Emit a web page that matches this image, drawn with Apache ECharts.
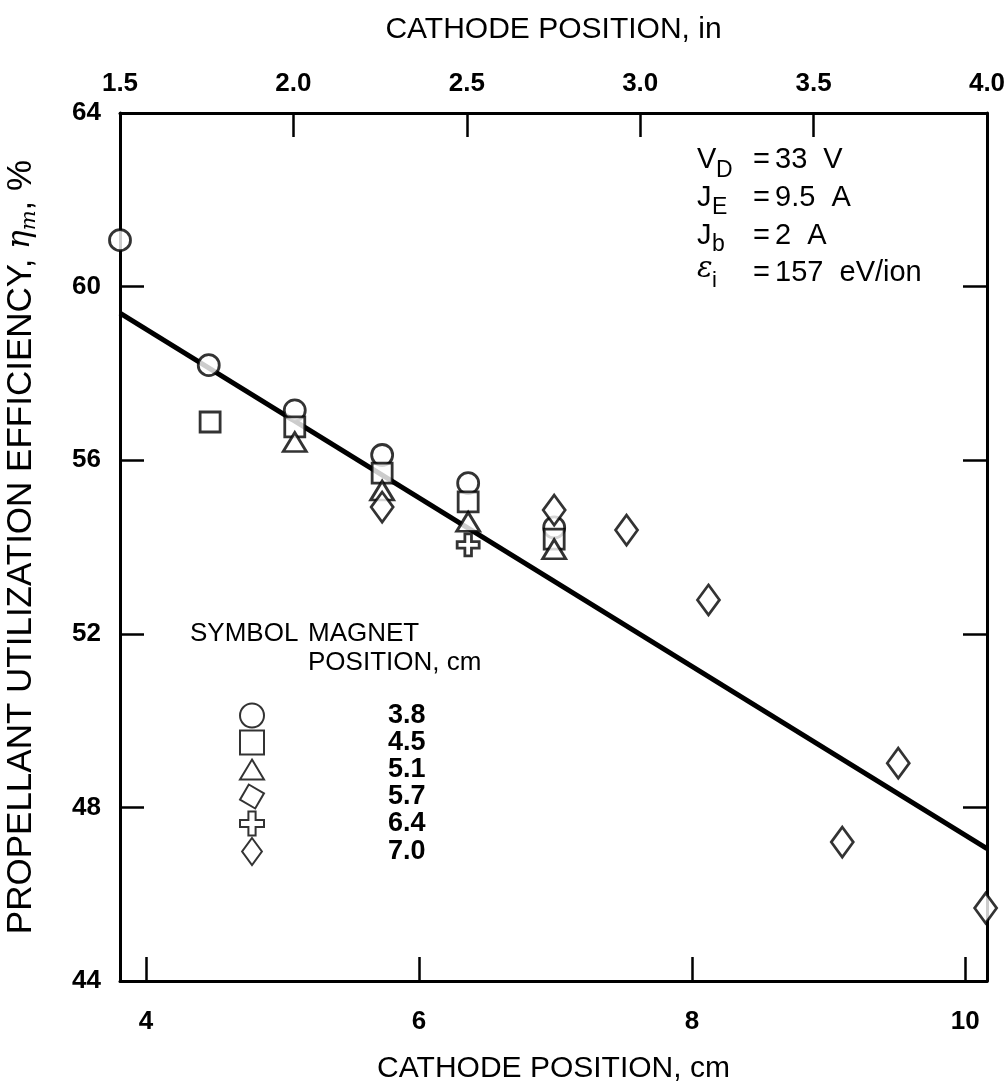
<!DOCTYPE html>
<html><head><meta charset="utf-8">
<script src="https://cdn.jsdelivr.net/npm/echarts@6/dist/echarts.min.js"></script>
<style>html,body{margin:0;padding:0;background:#fff}#c{width:1007px;height:1091px}</style>
</head><body><div id="c"></div>
<script>
// ---- data ----
const magnetPositions = ['3.8', '4.5', '5.1', '5.7', '6.4', '7.0'];
const circle38   = [[3.81, 61.07], [4.46, 58.19], [5.09, 57.15], [5.73, 56.12], [6.36, 55.47], [6.99, 54.45]];
const square45   = [[4.47, 56.88], [5.09, 56.77], [5.73, 55.70], [6.36, 55.04], [6.99, 54.18]];
const triangle51 = [[5.09, 56.42], [5.73, 55.30], [6.36, 54.58], [6.99, 53.95]];
const tilted57   = [];
const cross64    = [[6.36, 54.05]];
const diamond70  = [[5.73, 54.92], [6.99, 54.85], [7.52, 54.39], [8.12, 52.78], [9.10, 47.20], [9.51, 49.02], [10.15, 45.68]];
const fitLine    = [[3.81, 59.39], [10.16, 47.05]];
const cmTickValues = [4, 6, 8, 10];
const inchRange = [1.5, 4.0];
const cmRange = [3.81, 10.16];
const yRange = [44, 64];

const FONT = 'Liberation Sans, Arial, Helvetica, sans-serif';
const chart = echarts.init(document.getElementById('c'), null, {renderer: 'canvas'});

const hollow = {color: '#fff', borderColor: '#000', borderWidth: 2.8};
const crossPath = 'path://M3.5,0 L6.5,0 L6.5,3.5 L10,3.5 L10,6.5 L6.5,6.5 L6.5,10 L3.5,10 L3.5,6.5 L0,6.5 L0,3.5 L3.5,3.5 Z';
const squarePath = 'path://M0,0 L10,0 L10,10 L0,10 Z';
const trianglePath = 'path://M11.5,0 L23,19 L0,19 Z';
const tiltedPath = 'path://M12.59,19.66 L0.34,12.59 L7.41,0.34 L19.66,7.41 Z';
const diamondPath = 'path://M11,0 L22,15 L11,30 L0,15 Z';
const legendIcons = ['circle', squarePath, trianglePath, tiltedPath, crossPath, diamondPath];

function sc(name, data, symbol, size, z, rot) {
  return {
    name: name, type: 'scatter', xAxisIndex: 0, yAxisIndex: 0,
    data: data, symbol: symbol, symbolSize: size, symbolRotate: rot || 0,
    itemStyle: hollow, z: z, emphasis: {disabled: true}, silent: true
  };
}

const axisLine = {show: true, lineStyle: {color: '#000', width: 3}};
const tickStyle = {lineStyle: {color: '#000', width: 2.5}};
const labelStyle = {color: '#000', fontFamily: FONT, fontSize: 26, fontWeight: 'bold'};
const nameStyle = {color: '#000', fontFamily: FONT, fontSize: 30};

function txt(x, y, s, size, extra) {
  return {type: 'text', left: x, top: y, silent: true,
    style: {text: s, font: (extra || '') + size + 'px ' + FONT, fill: '#000'}};
}

const option = {
  backgroundColor: '#fff',
  animation: false,
  grid: {left: 120, right: 20, top: 113, bottom: 110, containLabel: false, outerBoundsMode: 'none'},
  xAxis: [
    {
      type: 'value', position: 'bottom', min: cmRange[0], max: cmRange[1],
      name: 'CATHODE POSITION, cm', nameLocation: 'middle', nameGap: 73, nameTextStyle: nameStyle,
      nameMoveOverlap: false,
      axisLine: axisLine, splitLine: {show: false},
      axisTick: Object.assign({show: true, inside: true, length: 24, customValues: cmTickValues}, tickStyle),
      axisLabel: Object.assign({margin: 28, customValues: cmTickValues}, labelStyle)
    },
    {
      type: 'value', position: 'top', min: inchRange[0], max: inchRange[1], interval: 0.5,
      name: 'CATHODE POSITION, in', nameLocation: 'middle', nameGap: 68, nameTextStyle: nameStyle,
      nameMoveOverlap: false,
      axisLine: axisLine, splitLine: {show: false},
      axisTick: Object.assign({show: true, inside: true, length: 24}, tickStyle),
      axisLabel: Object.assign({margin: 16, formatter: v => v.toFixed(1)}, labelStyle)
    }
  ],
  yAxis: [
    {
      type: 'value', position: 'left', min: yRange[0], max: yRange[1], interval: 4,
      name: '{a|PROPELLANT UTILIZATION EFFICIENCY, }{b|η}{c|m}{a|, %}',
      nameLocation: 'middle', nameGap: 80, nameMoveOverlap: false,
      nameTextStyle: {
        color: '#000', fontFamily: FONT, fontSize: 35,
        rich: {
          a: {fontFamily: FONT, fontSize: 35, color: '#000', lineHeight: 38},
          b: {fontFamily: 'DejaVu Serif, serif', fontStyle: 'italic', fontSize: 31, color: '#000', lineHeight: 38},
          c: {fontFamily: 'DejaVu Serif, serif', fontStyle: 'italic', fontSize: 21, color: '#000', lineHeight: 26, verticalAlign: 'bottom'}
        }
      },
      axisLine: axisLine, splitLine: {show: false},
      axisTick: Object.assign({show: true, inside: true, length: 24}, tickStyle),
      axisLabel: Object.assign({margin: 19}, labelStyle)
    },
    {
      type: 'value', position: 'right', min: yRange[0], max: yRange[1], interval: 4,
      axisLine: axisLine, splitLine: {show: false},
      axisTick: Object.assign({show: true, inside: true, length: 24}, tickStyle),
      axisLabel: {show: false}
    }
  ],
  legend: {
    data: magnetPositions.map((n, i) => ({name: n, icon: legendIcons[i]})),
    orient: 'vertical', left: 239, top: 702, padding: 0,
    itemWidth: 24, itemHeight: 27, itemGap: 0, selectedMode: false,
    symbolKeepAspect: true,
    formatter: n => '{g| }{v|' + n + '}',
    textStyle: {
      rich: {
        g: {width: 119, lineHeight: 22},
        v: {fontFamily: FONT, fontSize: 27, fontWeight: 'bold', color: '#000', lineHeight: 22}
      }
    }
  },
  graphic: [
    txt(190, 621, 'SYMBOL', 26),
    txt(308, 621, 'MAGNET', 26),
    txt(308, 650, 'POSITION, cm', 26),
    // parameters
    txt(697, 145, 'V', 29), txt(716, 159, 'D', 23), txt(753, 145, '=', 29), txt(775, 145, '33  V', 29),
    txt(697, 183, 'J', 29), txt(712, 196, 'E', 23), txt(753, 183, '=', 29), txt(775, 183, '9.5  A', 29),
    txt(697, 221, 'J', 29), txt(712, 233, 'b', 23), txt(753, 221, '=', 29), txt(775, 221, '2  A', 29),
    {type: 'text', left: 697, top: 255, silent: true, style: {text: 'ε', font: 'italic 29px DejaVu Serif, serif', fill: '#000'}},
    txt(712, 270, 'i', 22), txt(753, 258, '=', 29), txt(775, 258, '157  eV/ion', 29)
  ],
  series: [
    {
      name: 'fit', type: 'line', data: fitLine, showSymbol: false, symbol: 'none',
      lineStyle: {color: '#000', width: 5}, z: 1, silent: true, emphasis: {disabled: true}
    },
    sc('3.8', circle38, 'circle', 21, 3),
    sc('4.5', square45, 'rect', 20, 4),
    sc('5.1', triangle51, 'triangle', [23, 19], 5),
    sc('5.7', tilted57, tiltedPath, 22, 5),
    sc('6.4', cross64, crossPath, 22, 2),
    sc('7.0', diamond70, 'diamond', [22, 30], 6)
  ]
};
chart.setOption(option);
</script>
</body></html>
